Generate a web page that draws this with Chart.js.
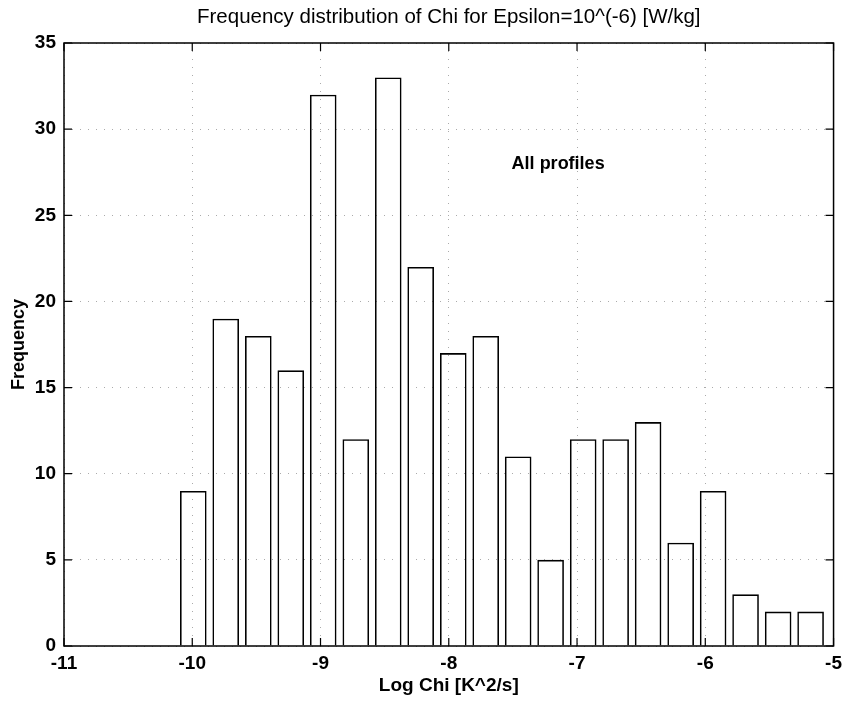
<!DOCTYPE html>
<html>
<head>
<meta charset="utf-8">
<script src="https://cdn.jsdelivr.net/npm/chart.js@4.4.1/dist/chart.umd.min.js"></script>
<style>
  html, body { margin: 0; padding: 0; background: #fff; }
  #wrap { width: 848px; height: 701px; }
</style>
</head>
<body>
<div id="wrap"><canvas id="c" width="848" height="701"></canvas></div>
<script>
// ---- data ----
const binCenters = [-9.992, -9.739, -9.485, -9.232, -8.979, -8.725, -8.472, -8.219, -7.965, -7.712,
                    -7.459, -7.206, -6.952, -6.699, -6.446, -6.192, -5.939, -5.686, -5.432, -5.179];
const frequencies = [9, 19, 18, 16, 32, 12, 33, 22, 17, 18,
                     11, 5, 12, 12, 13, 6, 9, 3, 2, 2];
const xTicks = [-11, -10, -9, -8, -7, -6, -5];
const yTicks = [0, 5, 10, 15, 20, 25, 30, 35];
const titleText = 'Frequency distribution of Chi for Epsilon=10^(-6) [W/kg]';
const xLabel = 'Log Chi [K^2/s]';
const yLabel = 'Frequency';
const noteText = 'All profiles';
const notePos = { x: -7.51, y: 28.0 };

const FONT = '"Liberation Sans", Arial, Helvetica, sans-serif';

const decorPlugin = {
  id: 'decor',
  afterDatasetsDraw(chart) {
    const { ctx, chartArea: a, scales: { x, y } } = chart;
    ctx.save();
    // box
    ctx.strokeStyle = '#000';
    ctx.lineWidth = 1.5;
    ctx.strokeRect(a.left, a.top, a.right - a.left, a.bottom - a.top);
    // inward ticks
    const tl = 8;
    ctx.lineWidth = 1.2;
    ctx.beginPath();
    xTicks.forEach(v => {
      const px = x.getPixelForValue(v);
      ctx.moveTo(px, a.bottom); ctx.lineTo(px, a.bottom - tl);
      ctx.moveTo(px, a.top); ctx.lineTo(px, a.top + tl);
    });
    yTicks.forEach(v => {
      const py = y.getPixelForValue(v);
      ctx.moveTo(a.left, py); ctx.lineTo(a.left + tl, py);
      ctx.moveTo(a.right, py); ctx.lineTo(a.right - tl, py);
    });
    ctx.stroke();
    // note text
    ctx.fillStyle = '#000';
    ctx.font = 'bold 18px ' + FONT;
    ctx.textAlign = 'left';
    ctx.textBaseline = 'middle';
    ctx.fillText(noteText, x.getPixelForValue(notePos.x), y.getPixelForValue(notePos.y));
    // title
    ctx.font = '20.5px ' + FONT;
    ctx.textAlign = 'center';
    ctx.fillText(titleText, (a.left + a.right) / 2, 17);
    ctx.restore();
  }
};

new Chart(document.getElementById('c'), {
  type: 'bar',
  data: {
    datasets: [{
      data: binCenters.map((c, i) => ({ x: c, y: frequencies[i] })),
      backgroundColor: 'rgba(255,255,255,0)',
      borderColor: '#000',
      borderWidth: 1.6,
      borderSkipped: 'start',
      categoryPercentage: 1.0,
      barPercentage: 0.82
    }]
  },
  options: {
    responsive: false,
    animation: false,
    devicePixelRatio: 1,
    layout: { padding: { top: 43, right: 12, left: 0, bottom: 0 } },
    plugins: {
      legend: { display: false },
      title: { display: false },
      tooltip: { enabled: false }
    },
    scales: {
      x: {
        type: 'linear',
        min: -11, max: -5,
        offset: false,
        afterFit: s => { s.height = 55; },
        afterBuildTicks: s => { s.ticks = xTicks.map(v => ({ value: v })); },
        ticks: {
          color: '#000',
          padding: 6,
          font: { family: FONT, size: 19, weight: 'bold' },
          callback: v => String(v)
        },
        grid: { offset: false, drawTicks: false, color: '#ababab', lineWidth: 1 },
        border: { display: false, dash: [1, 7] },
        title: {
          display: true, text: xLabel, color: '#000',
          font: { family: FONT, size: 19, weight: 'bold' },
          padding: { top: 0, bottom: 4 }
        }
      },
      y: {
        min: 0, max: 35,
        afterFit: s => { s.width = 64; },
        afterBuildTicks: s => { s.ticks = yTicks.map(v => ({ value: v })); },
        ticks: {
          color: '#000',
          padding: 8,
          font: { family: FONT, size: 19, weight: 'bold' },
          callback: v => String(v)
        },
        grid: { drawTicks: false, color: '#ababab', lineWidth: 1 },
        border: { display: false, dash: [1, 7] },
        title: {
          display: true, text: yLabel, color: '#000',
          font: { family: FONT, size: 18, weight: 'bold' },
          padding: { top: 8, bottom: 0 }
        }
      }
    }
  },
  plugins: [decorPlugin]
});
</script>
</body>
</html>
